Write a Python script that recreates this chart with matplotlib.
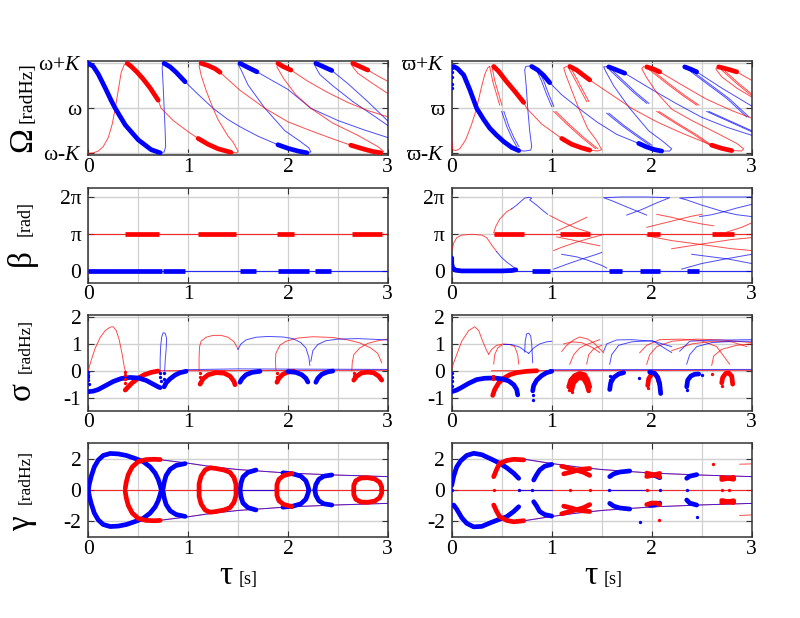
import numpy as np
import matplotlib
matplotlib.use('Agg')
import matplotlib.pyplot as plt

plt.rcParams['font.family'] = ['Liberation Serif', 'DejaVu Serif']
plt.rcParams['mathtext.fontset'] = 'custom'
plt.rcParams['mathtext.rm'] = 'Liberation Serif'
plt.rcParams['mathtext.it'] = 'Liberation Serif:italic'

RED = '#ff0000'
BLUE = '#0000ff'
PI = np.pi

# ---------------- Omega, left ----------------
omL_b1 = [(0, 1), (0.05, 0.93), (0.10, 0.76), (0.17, 0.45), (0.23, 0.17), (0.27, 0), (0.37, -0.37),
          (0.50, -0.70), (0.63, -0.92), (0.72, -0.99)]
omL_b2 = [(0.72, -0.99), (0.76, -0.97), (0.775, -0.85), (0.77, -0.5), (0.76, 0), (0.75, 0.5),
          (0.74, 0.9), (0.745, 0.99), (0.76, 1.0)]
omL_b3 = [(0.76, 1.0), (0.82, 0.92), (0.88, 0.80), (0.97, 0.59)]
omL_b4 = [(0.97, 0.59), (1.1, 0.31), (1.25, 0.0), (1.4, -0.25), (1.52, -0.41), (1.7, -0.62), (1.9, -0.81)]
omL_b5 = [(1.9, -0.81), (2.0, -0.89), (2.1, -0.95), (2.19, -0.99)]
omL_b6 = [(2.19, -0.99), (2.23, -0.97), (2.21, -0.88), (2.12, -0.73), (1.97, -0.50), (1.77, 0.0),
          (1.6, 0.52), (1.53, 0.86), (1.5, 0.98), (1.52, 1.0)]
omL_b7 = [(1.52, 1.0), (1.58, 0.93), (1.69, 0.81)]
omL_b8 = [(1.69, 0.81), (2.0, 0.42), (2.23, 0.0), (2.5, -0.27), (2.75, -0.47), (3.0, -0.65)]
omL_b9 = [(2.28, 1.0), (2.35, 0.93), (2.44, 0.84)]
omL_b10 = [(2.44, 0.84), (2.6, 0.55), (2.8, 0.15), (3.0, -0.28)]
omL_b11 = [(2.28, 1.0), (2.27, 0.95), (2.32, 0.75), (2.45, 0.5), (2.65, 0.15), (2.85, -0.15), (3.0, -0.38)]

omL_r1 = [(0, -1), (0.05, -0.99), (0.10, -0.95), (0.15, -0.85), (0.20, -0.65), (0.24, -0.35), (0.27, 0),
          (0.30, 0.4), (0.33, 0.8), (0.36, 0.97), (0.39, 1.0)]
omL_r2 = [(0.39, 1.0), (0.43, 0.93), (0.49, 0.80), (0.55, 0.65), (0.62, 0.45), (0.70, 0.18)]
omL_r3 = [(0.70, 0.18), (0.73, 0.0), (0.85, -0.27), (1.0, -0.52), (1.1, -0.67)]
omL_r4 = [(1.1, -0.67), (1.2, -0.80), (1.3, -0.90), (1.43, -0.98)]
omL_r5 = [(1.43, -0.98), (1.49, -0.99), (1.50, -0.95), (1.45, -0.75), (1.40, -0.62), (1.30, -0.25),
          (1.25, 0.0), (1.18, 0.4), (1.13, 0.74), (1.11, 0.95), (1.13, 1.0)]
omL_r6 = [(1.13, 1.0), (1.2, 0.95), (1.27, 0.88), (1.32, 0.8)]
omL_r7 = [(1.32, 0.8), (1.52, 0.40), (1.77, 0.0), (2.0, -0.30), (2.23, -0.50), (2.45, -0.68), (2.63, -0.82)]
omL_r8 = [(2.63, -0.82), (2.75, -0.90), (2.85, -0.96), (2.93, -0.99)]
omL_r9 = [(2.93, -0.99), (2.96, -0.96), (2.9, -0.85), (2.7, -0.6), (2.45, -0.33), (2.23, 0.0),
          (2.08, 0.3), (1.96, 0.65), (1.89, 0.92), (1.9, 1.0)]
omL_r10 = [(1.9, 1.0), (1.95, 0.93), (2.03, 0.85)]
omL_r11 = [(2.03, 0.85), (2.2, 0.6), (2.4, 0.35), (2.6, 0.13), (2.8, -0.05), (3.0, -0.19)]
omL_r12 = [(2.65, 1.0), (2.72, 0.93), (2.80, 0.85)]
omL_r13 = [(2.80, 0.85), (2.9, 0.72), (3.0, 0.6)]
omL_r14 = [(2.65, 1.0), (2.64, 0.95), (2.7, 0.78), (2.85, 0.55), (3.0, 0.33)]

# ---------------- Omega, right ----------------
omR_b1 = [(0.02, 0.93), (0.06, 0.88), (0.12, 0.74), (0.18, 0.42), (0.25, 0.0), (0.32, -0.25),
          (0.38, -0.44), (0.45, -0.6), (0.52, -0.74), (0.6, -0.87), (0.67, -0.94)]
omR_bdots = [(0, 0.9), (0, 0.8), (0, 0.7), (0.005, 0.55), (0, 0.45)]
omR_b2 = [(0.67, -0.94), (0.73, -0.95), (0.79, -0.93), (0.8, -0.85), (0.78, -0.5), (0.76, 0.0),
          (0.745, 0.5), (0.73, 0.85), (0.74, 0.93), (0.78, 0.94)]
omR_b3 = [(0.8, 0.93), (0.86, 0.85), (0.92, 0.73), (0.98, 0.57)]
omR_b4 = [(0.98, 0.57), (1.1, 0.3), (1.27, 0.0), (1.45, -0.3), (1.65, -0.58), (1.87, -0.78)]
omR_b5 = [(1.87, -0.78), (1.95, -0.86), (2.03, -0.92), (2.1, -0.95)]
omR_b6 = [(2.1, -0.95), (2.18, -0.95), (2.2, -0.9), (2.12, -0.75), (1.97, -0.5), (1.78, 0.0),
          (1.62, 0.5), (1.54, 0.82), (1.52, 0.92), (1.56, 0.93)]
omR_b7 = [(1.57, 0.92), (1.64, 0.86), (1.73, 0.78)]
omR_b8 = [(1.73, 0.78), (2.0, 0.42), (2.25, 0.1), (2.5, -0.2), (2.75, -0.42), (3.0, -0.6)]
omR_b9 = [(2.33, 0.92), (2.39, 0.87), (2.45, 0.81)]
omR_b10 = [(2.45, 0.81), (2.7, 0.45), (3.0, 0.05)]
omR_bd = [[(0.5, -0.07), (0.55, -0.4), (0.6, -0.65), (0.65, -0.85)],
          [(0.84, 0.89), (0.9, 0.6), (0.95, 0.3), (1.0, 0.04)],
          [(1.58, 0.85), (1.7, 0.6), (1.82, 0.35), (1.95, 0.11)],
          [(1.55, -0.11), (1.7, -0.38), (1.85, -0.62), (1.98, -0.82)],
          [(2.37, 0.85), (2.55, 0.55), (2.75, 0.22), (2.95, -0.19)],
          [(2.55, -0.07), (2.75, -0.27), (3.0, -0.52)]]

omR_r1 = [(0.0, -0.3), (0.0, -0.7), (0.01, -0.92), (0.04, -0.94), (0.08, -0.9), (0.14, -0.7), (0.2, -0.35),
          (0.25, 0.0), (0.29, 0.4), (0.33, 0.75), (0.36, 0.9), (0.38, 0.93)]
omR_r2 = [(0.42, 0.93), (0.47, 0.82), (0.55, 0.59), (0.63, 0.38), (0.72, 0.13)]
omR_r3 = [(0.72, 0.13), (0.75, 0.0), (0.9, -0.35), (1.1, -0.67)]
omR_r4 = [(1.1, -0.67), (1.2, -0.8), (1.3, -0.88), (1.38, -0.93)]
omR_r5 = [(1.38, -0.93), (1.46, -0.95), (1.5, -0.92), (1.45, -0.72), (1.36, -0.45), (1.27, 0.0),
          (1.2, 0.4), (1.14, 0.75), (1.12, 0.9), (1.15, 0.93)]
omR_r6 = [(1.18, 0.93), (1.25, 0.85), (1.32, 0.73), (1.38, 0.63)]
omR_r7 = [(1.38, 0.63), (1.6, 0.3), (1.8, 0.0), (2.05, -0.3), (2.3, -0.55), (2.6, -0.82)]
omR_r8 = [(2.6, -0.82), (2.7, -0.89), (2.8, -0.94)]
omR_r9 = [(2.8, -0.94), (2.9, -0.95), (2.92, -0.9), (2.85, -0.78), (2.65, -0.55), (2.4, -0.27),
          (2.2, -0.02), (2.05, 0.35), (1.95, 0.68), (1.9, 0.88), (1.92, 0.93)]
omR_r10 = [(1.95, 0.92), (2.02, 0.87), (2.08, 0.81)]
omR_r11 = [(2.08, 0.81), (2.3, 0.52), (2.55, 0.2), (2.8, -0.05), (3.0, -0.22)]
omR_r12 = [(2.67, 0.92), (2.76, 0.87), (2.85, 0.81)]
omR_r13 = [(2.85, 0.81), (3.0, 0.62)]
omR_r14 = [(2.67, 0.92), (2.64, 0.88), (2.7, 0.7), (2.85, 0.45), (3.0, 0.25)]
omR_rd = [[(0.38, 0.93), (0.41, 0.6), (0.45, 0.3), (0.48, 0.07)],
          [(1.02, -0.07), (1.15, -0.35), (1.3, -0.65), (1.44, -0.9)],
          [(1.17, 0.89), (1.23, 0.65), (1.29, 0.4), (1.35, 0.15)],
          [(1.98, 0.85), (2.15, 0.55), (2.3, 0.3), (2.45, 0.07)],
          [(2.05, -0.07), (2.25, -0.35), (2.42, -0.58), (2.58, -0.82)],
          [(2.7, 0.85), (2.85, 0.55), (3.0, 0.28)]]

# ---------------- beta, left (intervals of thick dots) ----------------
beL_red_thick = [(0.37, 0.71), (1.1, 1.48), (1.89, 2.06), (2.64, 2.94)]
beL_blue_thick = [(0.0, 0.74), (0.75, 0.97), (1.52, 1.68), (1.9, 2.21), (2.27, 2.43)]

# ---------------- beta, right (y in units of pi) ----------------
beR_red_thick = [(0.42, 0.72), (1.08, 1.38), (1.95, 2.08), (2.6, 2.82)]
beR_blue_thick = [(0.8, 0.98), (1.57, 1.7), (1.88, 2.08), (2.35, 2.47)]
beR_b0 = [(0.0, 0.35), (0.0, 0.2), (0.01, 0.08), (0.04, 0.02), (0.1, 0.0), (0.3, 0.0), (0.5, 0.0),
          (0.6, 0.01), (0.64, 0.03)]
beR_r_lo = [(0.0, 0.55), (0.02, 0.75), (0.05, 0.9), (0.1, 0.97), (0.2, 0.99), (0.3, 0.97),
            (0.35, 0.9), (0.4, 0.7), (0.45, 0.52)]
beR_b_lo = [(0.45, 0.52), (0.5, 0.36), (0.55, 0.24), (0.6, 0.14), (0.64, 0.06), (0.66, 0.02)]
beR_r_up = [(0.42, 1.03), (0.44, 1.2), (0.48, 1.4), (0.55, 1.6), (0.6, 1.68)]
beR_b_up = [(0.6, 1.68), (0.65, 1.78), (0.7, 1.9), (0.73, 1.97), (0.77, 1.99), (0.8, 1.97),
            (0.78, 1.92), (0.84, 1.8), (0.9, 1.66), (0.96, 1.53)]
beR_r_x1 = [(0.98, 1.5), (1.05, 1.4), (1.15, 1.27), (1.25, 1.15), (1.37, 1.05)]
beR_r_x2 = [(1.05, 1.08), (1.15, 1.2), (1.25, 1.32), (1.35, 1.45)]
beR_b_f1 = [(1.95, 1.51), (1.75, 1.73), (1.6, 1.9), (1.52, 1.98), (1.7, 2.0), (1.95, 2.0), (2.18, 1.98),
            (2.05, 1.84), (1.9, 1.66), (1.75, 1.51)]
beR_b_f2 = [(3.0, 1.47), (2.85, 1.52), (2.72, 1.6), (2.5, 1.78), (2.35, 1.92), (2.28, 1.97), (2.5, 2.0),
            (3.0, 2.0)]
beR_b_f3 = [(3.0, 1.8), (2.85, 1.7), (2.72, 1.6), (2.6, 1.52), (2.48, 1.47)]
beR_r_x3 = [(1.95, 1.18), (2.1, 1.28), (2.25, 1.38), (2.4, 1.48), (2.5, 1.53)]
beR_r_x4 = [(2.05, 1.53), (2.2, 1.45), (2.35, 1.35), (2.5, 1.27), (2.62, 1.22)]
beR_r_x5 = [(2.75, 1.05), (2.9, 1.18), (3.0, 1.3)]
beR_r_x6 = [(1.5, 0.97), (1.4, 0.9), (1.25, 0.78), (1.1, 0.64), (1.02, 0.55)]
beR_r_x7 = [(1.05, 0.92), (1.2, 0.84), (1.35, 0.75), (1.48, 0.68)]
beR_r_x8 = [(1.95, 0.95), (2.2, 0.82), (2.48, 0.72), (2.8, 0.6), (3.0, 0.55)]
beR_r_x9 = [(2.2, 0.6), (2.48, 0.72), (2.8, 0.85), (3.0, 0.9)]
beR_b_x1 = [(1.02, 0.05), (1.15, 0.18), (1.3, 0.32), (1.45, 0.45), (1.5, 0.5)]
beR_b_x2 = [(1.1, 0.45), (1.25, 0.38), (1.35, 0.3), (1.5, 0.15), (1.55, 0.08)]
beR_b_x3 = [(2.3, 0.05), (2.5, 0.2), (2.75, 0.33), (3.0, 0.45)]
beR_b_x4 = [(2.4, 0.45), (2.6, 0.38), (2.75, 0.33), (3.0, 0.2)]

# ---------------- sigma, left ----------------
siL_r_arch = [[(0, 0.02), (0.03, 0.4), (0.07, 0.85), (0.12, 1.25), (0.17, 1.5), (0.22, 1.63), (0.25, 1.64),
               (0.28, 1.5), (0.31, 1.15), (0.34, 0.6), (0.36, 0.15), (0.37, 0.0)],
              [(1.11, 0.0), (1.11, 0.5), (1.115, 0.9), (1.13, 1.1), (1.18, 1.25), (1.25, 1.32), (1.33, 1.32),
               (1.4, 1.25), (1.46, 1.08), (1.49, 0.88), (1.5, 0.8)],
              [(1.88, 0.0), (1.875, 0.4), (1.88, 0.65), (1.92, 0.95), (1.98, 1.1), (2.1, 1.22), (2.25, 1.27),
               (2.45, 1.24), (2.6, 1.15), (2.72, 1.04), (2.83, 0.85), (2.9, 0.65), (2.94, 0.3)],
              [(2.64, 0.0), (2.645, 0.3), (2.66, 0.6), (2.72, 0.85), (2.8, 1.02), (2.9, 1.12), (3.0, 1.18)]]
siL_b_arch = [[(0.72, 0.0), (0.72, 0.45), (0.725, 0.9), (0.735, 1.25), (0.75, 1.42), (0.77, 1.4),
               (0.785, 1.2), (0.78, 0.8), (0.77, 0.35), (0.765, 0.0)],
              [(1.5, 0.8), (1.53, 1.0), (1.58, 1.15), (1.68, 1.25), (1.8, 1.28), (1.95, 1.26), (2.05, 1.2),
               (2.13, 1.05), (2.18, 0.85), (2.21, 0.5), (2.22, 0.2)],
              [(2.23, 0.35), (2.25, 0.75), (2.3, 0.98), (2.38, 1.12), (2.5, 1.18), (2.7, 1.2), (3.0, 1.15)]]
siL_r_thick = [[(0.37, -0.72), (0.40, -0.6), (0.44, -0.45), (0.5, -0.28), (0.56, -0.15), (0.63, -0.06),
                (0.7, -0.01)],
               [(1.12, -0.5), (1.15, -0.3), (1.2, -0.15), (1.28, -0.07), (1.36, -0.09), (1.42, -0.2),
                (1.46, -0.4), (1.47, -0.52)],
               [(1.89, -0.43), (1.91, -0.28), (1.95, -0.13), (2.0, -0.05), (2.06, -0.02)],
               [(2.66, -0.35), (2.69, -0.2), (2.74, -0.08), (2.8, -0.05), (2.86, -0.08), (2.91, -0.2),
                (2.94, -0.35)]]
siL_b_thick = [[(0, -0.78), (0.05, -0.76), (0.1, -0.7), (0.17, -0.56), (0.25, -0.4), (0.33, -0.29),
                (0.42, -0.25), (0.5, -0.27), (0.58, -0.36), (0.64, -0.48), (0.7, -0.6), (0.72, -0.63)],
               [(0.76, -0.6), (0.78, -0.45), (0.82, -0.3), (0.87, -0.16), (0.92, -0.07), (0.98, -0.02)],
               [(1.52, -0.43), (1.54, -0.3), (1.58, -0.15), (1.64, -0.06), (1.72, -0.02)],
               [(2.0, -0.03), (2.08, -0.06), (2.14, -0.15), (2.18, -0.28), (2.2, -0.42)],
               [(2.28, -0.43), (2.3, -0.28), (2.34, -0.13), (2.4, -0.04), (2.45, -0.01)]]
siL_b_dots = [(0, -0.05), (0, -0.15), (0, -0.25), (0, -0.35), (0.005, -0.5), (0.72, -0.1), (0.72, -0.25),
              (0.725, -0.4), (0.76, -0.1), (0.76, -0.3), (0.765, -0.45)]
siL_r_dots = [(0.37, -0.05), (0.37, -0.15), (0.365, -0.3), (0.37, -0.45), (1.12, -0.1), (1.12, -0.25),
              (1.89, -0.1), (1.89, -0.25), (2.66, -0.1), (2.66, -0.2)]

# ---------------- sigma, right ----------------
siR_r_arch = [[(0.0, 0.1), (0.04, 0.5), (0.1, 1.1), (0.17, 1.5), (0.23, 1.64), (0.27, 1.5), (0.31, 1.1),
               (0.35, 0.75), (0.37, 0.62)],
              [(0.37, 0.62), (0.4, 0.8), (0.45, 0.95), (0.52, 1.0), (0.58, 0.98), (0.63, 0.9), (0.66, 0.6),
               (0.67, 0.25)],
              [(0.42, 0.25), (0.43, 0.6), (0.46, 0.85), (0.5, 0.95)],
              [(1.1, 0.72), (1.15, 0.95), (1.22, 1.15), (1.28, 1.26), (1.36, 1.18), (1.42, 1.04), (1.52, 0.67)],
              [(1.12, 1.0), (1.2, 1.08), (1.3, 1.05), (1.4, 0.88), (1.48, 0.68)],
              [(1.18, 0.24), (1.22, 0.6), (1.28, 0.85), (1.35, 0.98), (1.48, 1.16)],
              [(1.35, 0.25), (1.37, 0.6), (1.42, 0.82), (1.5, 0.95)],
              [(1.88, 0.67), (1.95, 0.95), (2.08, 1.16), (2.3, 1.18), (2.5, 1.12), (2.65, 0.9), (2.78, 0.24)],
              [(1.95, 0.24), (1.98, 0.6), (2.05, 0.9), (2.2, 1.1), (2.45, 1.18), (2.7, 1.15), (3.0, 1.05)],
              [(2.6, 0.2), (2.62, 0.55), (2.7, 0.8), (2.85, 0.95), (3.0, 1.0)],
              [(2.2, 0.75), (2.4, 1.0), (2.6, 1.1), (2.8, 1.08), (2.95, 0.9)]]
siR_b_arch = [[(0.52, 0.98), (0.6, 0.98), (0.68, 0.88), (0.74, 0.72), (0.77, 0.65)],
              [(0.73, 0.7), (0.735, 1.1), (0.75, 1.38), (0.77, 1.4), (0.79, 1.3), (0.8, 1.0), (0.81, 0.3)],
              [(0.77, 0.65), (0.82, 0.85), (0.88, 1.0), (0.95, 1.08), (1.0, 1.1)],
              [(1.52, 0.73), (1.55, 1.0), (1.65, 1.15), (1.8, 1.16), (2.02, 1.1), (2.15, 0.79), (2.2, 0.68)],
              [(1.58, 0.24), (1.6, 0.6), (1.67, 0.95), (1.8, 1.08), (2.0, 1.12), (2.2, 0.9)],
              [(2.28, 0.73), (2.38, 1.1), (2.6, 1.14), (2.8, 1.15), (3.0, 1.16)],
              [(2.35, 0.25), (2.38, 0.6), (2.45, 0.9), (2.6, 1.05), (2.8, 1.1), (3.0, 1.1)]]
siR_r_thick = [[(0.41, -0.92), (0.43, -0.7), (0.47, -0.45), (0.52, -0.28), (0.58, -0.15), (0.65, -0.07),
                (0.75, -0.02), (0.85, 0.0)],
               [(1.17, -0.6), (1.19, -0.35), (1.23, -0.18), (1.28, -0.1), (1.33, -0.15), (1.36, -0.35),
                (1.38, -0.6)],
               [(1.2, -0.72), (1.22, -0.45), (1.27, -0.25), (1.32, -0.3), (1.35, -0.5), (1.37, -0.75)],
               [(1.96, -0.55), (1.97, -0.3), (2.0, -0.12), (2.03, -0.1), (2.06, -0.25), (2.08, -0.5)],
               [(2.7, -0.45), (2.71, -0.25), (2.74, -0.1), (2.77, -0.08), (2.8, -0.2), (2.81, -0.5)]]
siR_b_thick = [[(0.0, -0.78), (0.05, -0.72), (0.1, -0.62), (0.17, -0.47), (0.25, -0.33), (0.33, -0.28),
                (0.42, -0.27), (0.5, -0.3), (0.57, -0.38), (0.62, -0.52), (0.65, -0.7), (0.66, -0.9)],
               [(0.81, -0.75), (0.82, -0.55), (0.85, -0.35), (0.9, -0.18), (0.95, -0.07), (1.0, -0.02)],
               [(1.58, -0.7), (1.59, -0.45), (1.62, -0.25), (1.67, -0.12), (1.72, -0.07)],
               [(1.98, -0.05), (2.03, -0.1), (2.06, -0.25), (2.08, -0.5), (2.09, -0.85)],
               [(2.35, -0.6), (2.36, -0.35), (2.39, -0.2), (2.43, -0.13), (2.47, -0.12)]]
siR_b_dots = [(0, -0.1), (0, -0.25), (0, -0.4), (0, -0.55), (0.81, -1.1), (0.81, -0.9), (1.58, -0.2),
              (1.58, -0.35), (1.87, -0.28), (2.35, -0.72), (2.5, -0.17)]
siR_r_dots = [(0.41, -0.2), (0.41, -0.3), (1.17, -0.7), (1.2, -0.8), (1.96, -0.65), (2.6, -0.12),
              (2.7, -0.55)]

# ---------------- gamma, left (upper halves; lower halves mirror) ----------------
gaL_env = [(0.68, 2.0), (1.0, 1.74), (1.25, 1.5), (1.5, 1.33), (2.0, 1.1), (2.5, 0.97), (3.0, 0.87)]
gaL_b_thick = [[(0.0, 0.0), (0.01, 0.4), (0.03, 0.9), (0.06, 1.5), (0.1, 1.95), (0.15, 2.25), (0.22, 2.38),
                (0.3, 2.35), (0.38, 2.25), (0.47, 2.05), (0.55, 1.85), (0.62, 1.5), (0.67, 1.1), (0.7, 0.7),
                (0.72, 0.3), (0.73, 0.05)],
               [(0.75, 0.1), (0.76, 0.5), (0.78, 0.95), (0.82, 1.35), (0.88, 1.6), (0.97, 1.72)],
               [(1.52, 0.0), (1.53, 0.45), (1.55, 0.85), (1.6, 1.15), (1.68, 1.3)],
               [(1.95, 1.12), (2.05, 1.05), (2.13, 0.9), (2.18, 0.6), (2.2, 0.25), (2.21, 0.0)],
               [(2.27, 0.0), (2.28, 0.35), (2.31, 0.7), (2.36, 0.9), (2.44, 0.98)]]
gaL_r_thick = [[(0.37, 0.1), (0.38, 0.5), (0.4, 1.0), (0.44, 1.5), (0.5, 1.85), (0.58, 1.98), (0.66, 2.0),
                (0.72, 1.98)],
               [(1.11, 0.0), (1.11, 0.4), (1.13, 0.9), (1.17, 1.3), (1.22, 1.45), (1.28, 1.4), (1.36, 1.3),
                (1.42, 1.15), (1.46, 0.8), (1.48, 0.35), (1.48, 0.0)],
               [(1.89, 0.0), (1.89, 0.35), (1.91, 0.7), (1.96, 0.95), (2.04, 1.08)],
               [(2.66, 0.0), (2.66, 0.3), (2.68, 0.6), (2.73, 0.78), (2.8, 0.8), (2.87, 0.72), (2.92, 0.5),
                (2.94, 0.2), (2.94, 0.0)]]

# ---------------- gamma, right ----------------
gaR_env = [(0.72, 2.0), (1.0, 1.72), (1.25, 1.5), (1.5, 1.33), (2.0, 1.1), (2.5, 0.97), (3.0, 0.87)]
gaR_b_up = [[(0.0, 0.3), (0.02, 0.9), (0.05, 1.5), (0.09, 1.9), (0.15, 2.25), (0.22, 2.39), (0.3, 2.3),
             (0.4, 2.0), (0.48, 1.74), (0.55, 1.45), (0.62, 1.09), (0.67, 0.76)],
            [(0.82, 0.65), (0.85, 1.0), (0.88, 1.3), (0.93, 1.55), (1.0, 1.67)],
            [(1.58, 0.87), (1.62, 1.05), (1.68, 1.17), (1.78, 1.24)],
            [(1.98, 0.98), (2.03, 0.95), (2.08, 0.8)],
            [(2.35, 0.76), (2.38, 0.9), (2.45, 1.0)]]
gaR_b_lo = [[(0.02, -0.98), (0.05, -1.25), (0.1, -1.8), (0.15, -2.17), (0.22, -2.4), (0.3, -2.37),
             (0.4, -2.1), (0.48, -1.9), (0.55, -1.74), (0.62, -1.4), (0.67, -1.09)],
            [(0.82, -0.76), (0.85, -1.05), (0.88, -1.4), (0.93, -1.6), (1.0, -1.7)],
            [(1.58, -0.87), (1.62, -1.05), (1.68, -1.17), (1.78, -1.24)],
            [(1.98, -1.0), (2.03, -0.98), (2.08, -0.85)],
            [(2.35, -0.65), (2.38, -0.85), (2.45, -0.98)]]
gaR_r_up = [[(0.42, 0.87), (0.45, 1.35), (0.48, 1.74), (0.55, 1.92), (0.62, 2.0), (0.72, 1.96)],
            [(1.1, 1.55), (1.18, 1.4), (1.25, 1.28), (1.32, 1.15), (1.38, 0.95)],
            [(1.12, 1.05), (1.2, 1.18), (1.25, 1.28), (1.3, 1.35), (1.38, 1.4)],
            [(1.95, 1.1), (2.0, 1.02), (2.05, 0.95), (2.08, 0.85)],
            [(1.95, 0.88), (2.02, 0.98), (2.08, 1.08)],
            [(2.7, 0.82), (2.76, 0.76), (2.82, 0.7)],
            [(2.7, 0.68), (2.76, 0.76), (2.82, 0.82)]]
gaR_r_lo = [[(0.42, -0.98), (0.45, -1.4), (0.48, -1.74), (0.55, -1.98), (0.62, -2.07), (0.72, -2.0)],
            [(1.1, -1.55), (1.18, -1.4), (1.25, -1.28), (1.32, -1.15), (1.38, -0.95)],
            [(1.12, -1.05), (1.2, -1.18), (1.25, -1.28), (1.3, -1.35), (1.38, -1.4)],
            [(1.95, -0.95), (2.0, -0.85), (2.05, -0.85), (2.08, -0.95)],
            [(2.7, -0.82), (2.76, -0.76), (2.82, -0.7)],
            [(2.7, -0.68), (2.76, -0.76), (2.82, -0.82)]]
gaR_r_dots = [(2.61, 1.7), (2.07, -1.96), (0.42, 0.0), (1.18, 0.0), (1.38, 0.0), (1.95, 0.0), (2.7, 0.0),
              (2.77, 0.0)]
gaR_b_dots = [(1.88, -2.1), (2.45, -1.78), (0.0, 0.0), (0.67, 0.0), (0.8, 0.0), (1.57, 0.0), (2.08, 0.0),
              (2.35, 0.0)]
gaR_r_edge = [[(2.88, 1.68), (3.0, 1.7)], [(2.88, -1.66), (3.0, -1.62)]]

THICK = 3.4


def xy(pts):
    a = np.array(pts, dtype=float)
    return a[:, 0], a[:, 1]


def thin(ax, pts, c, sy=1.0, dx=0.0):
    x, y = xy(pts)
    ax.plot(x + dx, y * sy, color=c, lw=0.7, alpha=0.7, zorder=3)


def thick(ax, pts, c, sy=1.0):
    x, y = xy(pts)
    ax.plot(x, y * sy, color=c, lw=THICK, solid_capstyle='round', zorder=4)


def dots(ax, pts, c, sy=1.0):
    x, y = xy(pts)
    ax.plot(x, y * sy, ls='none', marker='o', ms=2.4, color=c, mew=0, zorder=4)


fig = plt.figure(figsize=(8, 6.18), dpi=100)
W, H = 800.0, 618.0
cols = [(88.3, 387.7), (451.7, 751.7)]
rows = [(60.7, 155.0), (188.3, 282.7), (315.0, 410.7), (442.7, 537.3)]
axs = [[None, None] for _ in rows]
for i, (y0, y1) in enumerate(rows):
    for j, (x0, x1) in enumerate(cols):
        axs[i][j] = fig.add_axes([x0 / W, 1 - y1 / H, (x1 - x0) / W, (y1 - y0) / H])

ylims = [(-1.038, 1.058), (-1.0, 7.02), (-1.49, 2.08), (-3.08, 3.08)]
yticks = [[-1, 0, 1], [0, PI, 2 * PI], [-1, 0, 1, 2], [-2, 0, 2]]
ylabels = [None, ['0', 'π', '2π'], ['-1', '0', '1', '2'], ['-2', '0', '2']]
for i in range(4):
    for j in range(2):
        ax = axs[i][j]
        ax.set_xlim(0, 3)
        ax.set_ylim(*ylims[i])
        ax.set_xticks([0, 1, 2, 3])
        ax.set_xticks([0.5, 1.5, 2.5], minor=True)
        ax.set_yticks(yticks[i])
        if i == 0:
            if j == 0:
                ax.set_yticklabels(['ω-$K$', 'ω', 'ω+$K$'])
            else:
                ax.set_yticklabels(['ϖ-$K$', 'ϖ', 'ϖ+$K$'])
        else:
            ax.set_yticklabels(ylabels[i])
        ax.tick_params(which='major', direction='in', length=4, top=True, right=True,
                       labelsize=15.5, color='#333333')
        ax.tick_params(axis='y', pad=5)
        ax.tick_params(axis='x', pad=2)
        ax.tick_params(which='minor', length=0)
        ax.grid(True, which='both', axis='x', color='#d0d0d0', lw=0.9)
        ax.grid(True, which='major', axis='y', color='#d0d0d0', lw=1.0)
        ax.set_axisbelow(True)
        for s in ax.spines.values():
            s.set_color('#333333')
            s.set_linewidth(1.1)

# Omega panels
ax = axs[0][0]
for p in [omL_b2, omL_b4, omL_b6, omL_b8, omL_b10, omL_b11]:
    thin(ax, p, BLUE)
for p in [omL_b1, omL_b3, omL_b5, omL_b7, omL_b9]:
    thick(ax, p, BLUE)
for p in [omL_r1, omL_r3, omL_r5, omL_r7, omL_r9, omL_r11, omL_r13, omL_r14]:
    thin(ax, p, RED)
for p in [omL_r2, omL_r4, omL_r6, omL_r8, omL_r10, omL_r12]:
    thick(ax, p, RED)

ax = axs[0][1]
for p in [omR_b2, omR_b4, omR_b6, omR_b8, omR_b10]:
    thin(ax, p, BLUE)
for p in omR_bd:
    thin(ax, p, BLUE)
    thin(ax, p, BLUE, dx=0.022)
for p in [omR_b1, omR_b3, omR_b5, omR_b7, omR_b9]:
    thick(ax, p, BLUE)
dots(ax, omR_bdots, BLUE)
for p in [omR_r1, omR_r3, omR_r5, omR_r7, omR_r9, omR_r11, omR_r13, omR_r14]:
    thin(ax, p, RED)
for p in omR_rd:
    thin(ax, p, RED)
    thin(ax, p, RED, dx=0.022)
for p in [omR_r2, omR_r4, omR_r6, omR_r8, omR_r10, omR_r12]:
    thick(ax, p, RED)

# beta panels
ax = axs[1][0]
ax.plot([0, 3], [PI, PI], color=RED, lw=0.8, alpha=0.8)
ax.plot([0, 3], [0, 0], color=BLUE, lw=0.8, alpha=0.8)
for a, b in beL_red_thick:
    ax.plot([a, b], [PI, PI], color=RED, lw=THICK, solid_capstyle='butt', zorder=4)
for a, b in beL_blue_thick:
    ax.plot([a, b], [0, 0], color=BLUE, lw=THICK, solid_capstyle='butt', zorder=4)

ax = axs[1][1]
ax.plot([0.42, 3], [PI, PI], color=RED, lw=0.8, alpha=0.8)
ax.plot([0.64, 3], [0, 0], color=BLUE, lw=0.8, alpha=0.8)
for a, b in beR_red_thick:
    ax.plot([a, b], [PI, PI], color=RED, lw=THICK, solid_capstyle='butt', zorder=4)
for a, b in beR_blue_thick:
    ax.plot([a, b], [0, 0], color=BLUE, lw=THICK, solid_capstyle='butt', zorder=4)
thick(ax, beR_b0, BLUE, sy=PI)
for p in [beR_r_lo, beR_r_up, beR_r_x1, beR_r_x2, beR_r_x3, beR_r_x4, beR_r_x5, beR_r_x6, beR_r_x7,
          beR_r_x8, beR_r_x9]:
    thin(ax, p, RED, sy=PI)
for p in [beR_b_lo, beR_b_up, beR_b_f1, beR_b_f2, beR_b_f3, beR_b_x1, beR_b_x2, beR_b_x3, beR_b_x4]:
    thin(ax, p, BLUE, sy=PI)

# sigma panels
ax = axs[2][0]
ax.plot([0.7, 3], [0.0, 0.02], color=RED, lw=0.8, alpha=0.8)
ax.plot([0.97, 1.5, 3], [0.04, 0.07, 0.05], color=BLUE, lw=0.7, alpha=0.7)
for p in siL_r_arch:
    thin(ax, p, RED)
for p in siL_b_arch:
    thin(ax, p, BLUE)
for p in siL_r_thick:
    thick(ax, p, RED)
for p in siL_b_thick:
    thick(ax, p, BLUE)
dots(ax, siL_b_dots, BLUE)
dots(ax, siL_r_dots, RED)

ax = axs[2][1]
ax.plot([0.4, 3], [0.0, 0.02], color=RED, lw=0.8, alpha=0.8)
ax.plot([0.98, 3], [0.04, 0.05], color=BLUE, lw=0.7, alpha=0.7)
for p in siR_r_arch:
    thin(ax, p, RED)
for p in siR_b_arch:
    thin(ax, p, BLUE)
for p in siR_r_thick:
    thick(ax, p, RED)
for p in siR_b_thick:
    thick(ax, p, BLUE)
dots(ax, siR_b_dots, BLUE)
dots(ax, siR_r_dots, RED)

# gamma panels
ax = axs[3][0]
ax.plot([0, 3], [0, 0], color=RED, lw=0.8, alpha=0.8)
ax.plot([1.5, 1.9], [0, 0], color=BLUE, lw=0.8, alpha=0.8)
for sy in (1, -1):
    thin(ax, gaL_env, RED, sy=sy)
    thin(ax, gaL_env, BLUE, sy=sy, dx=0.01)
    for p in gaL_b_thick:
        thick(ax, p, BLUE, sy=sy)
    for p in gaL_r_thick:
        thick(ax, p, RED, sy=sy)

ax = axs[3][1]
ax.plot([0, 3], [0, 0], color=RED, lw=0.8, alpha=0.8)
ax.plot([0.67, 1.0], [0, 0], color=BLUE, lw=0.8, alpha=0.8)
ax.plot([1.57, 1.95], [0, 0], color=BLUE, lw=0.8, alpha=0.8)
for sy in (1, -1):
    thin(ax, gaR_env, RED, sy=sy)
    thin(ax, gaR_env, BLUE, sy=sy, dx=0.01)
for p in gaR_b_up + gaR_b_lo:
    thick(ax, p, BLUE)
for p in gaR_r_up + gaR_r_lo:
    thick(ax, p, RED)
for p in gaR_r_edge:
    thin(ax, p, RED)
dots(ax, gaR_r_dots, RED)
dots(ax, gaR_b_dots, BLUE)


# axis titles
def vlabel(x, y, s, size):
    fig.text(x / W, 1 - y / H, s, rotation=90, rotation_mode='anchor', ha='left', va='baseline',
             fontsize=size)


vlabel(31, 152, 'Ω', 24)
vlabel(31, 123, '[radHz]', 14)
vlabel(30, 266, 'β', 24)
vlabel(30, 236, '[rad]', 13)
vlabel(30, 400, 'σ', 24)
vlabel(30, 373, '[radHz]', 12.5)
vlabel(30, 531, 'γ', 24)
vlabel(30, 504, '[radHz]', 12.5)

for xc in (219, 584):
    fig.text(xc / W, 1 - 584 / H, 'τ', fontsize=24, ha='left', va='baseline')
    fig.text((xc + 20) / W, 1 - 584 / H, '[s]', fontsize=13, ha='left', va='baseline')

fig.savefig('out.png', dpi=100, facecolor='white')
